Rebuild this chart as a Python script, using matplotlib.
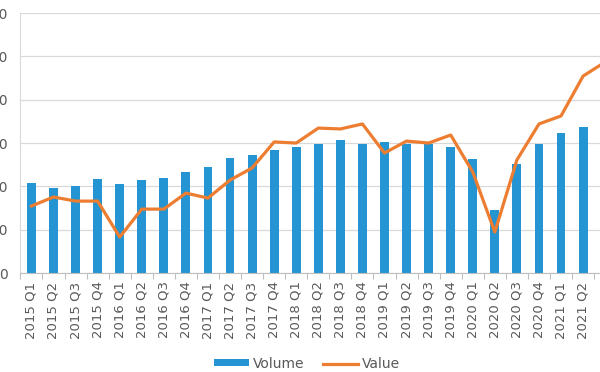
import matplotlib.pyplot as plt
import numpy as np

quarters = ['2015 Q1', '2015 Q2', '2015 Q3', '2015 Q4',
            '2016 Q1', '2016 Q2', '2016 Q3', '2016 Q4',
            '2017 Q1', '2017 Q2', '2017 Q3', '2017 Q4',
            '2018 Q1', '2018 Q2', '2018 Q3', '2018 Q4',
            '2019 Q1', '2019 Q2', '2019 Q3', '2019 Q4',
            '2020 Q1', '2020 Q2', '2020 Q3', '2020 Q4',
            '2021 Q1', '2021 Q2', '2021 Q3']

volume = [41.5, 39.2, 40.2, 43.4, 41.1, 42.9, 43.8, 46.6,
          48.9, 53.1, 54.5, 56.8, 58.2, 59.5, 61.4, 59.5,
          60.5, 59.5, 59.5, 58.2, 52.6, 29.1, 50.3, 59.5,
          64.6, 67.4, 68.0]

value = [30.9, 35.1, 33.2, 33.2, 16.6, 29.5, 29.5, 36.9,
         34.6, 42.9, 48.5, 60.5, 60.0, 66.9, 66.5, 68.8,
         55.4, 60.9, 60.0, 63.7, 46.6, 18.9, 52.2, 68.8,
         72.5, 90.9, 97.4]

y_ticks = [0, 20, 40, 60, 80, 100, 120]

blue = '#2494D2'
orange = '#ED7D31'
grey = '#595959'

fig = plt.figure(figsize=(6, 3.72), dpi=100)
# the source picture is cropped on both sides, so the axes run past the right edge
ax = fig.add_axes([0.034, 0.266, 0.993, 0.699])

x = np.arange(len(quarters))
bars = ax.bar(x, volume, width=0.4, color=blue, label='Volume', zorder=2)
line, = ax.plot(x, value, color=orange, linewidth=2.3, label='Value', zorder=3)

ax.set_xlim(-0.5, len(quarters) - 0.5)
ax.set_ylim(0, 120)
ax.set_yticks(y_ticks)
ax.set_yticklabels([str(t) for t in y_ticks], fontsize=10, color=grey)
ax.tick_params(axis='y', length=0, pad=9)

# last quarter falls outside the crop, its label is not shown
ax.set_xticks(x[:-1])
ax.set_xticklabels(quarters[:-1], rotation=90, fontsize=9.5, color=grey)
ax.set_xticks(np.arange(-0.5, len(quarters), 1), minor=True)
ax.tick_params(axis='x', which='major', length=0, pad=6)
ax.tick_params(axis='x', which='minor', length=4, color='#BFBFBF', width=0.8)

ax.grid(axis='y', color='#D9D9D9', linewidth=0.9, zorder=0)
ax.set_axisbelow(True)
for side in ['top', 'right']:
    ax.spines[side].set_visible(False)
ax.spines['left'].set_color('#D9D9D9')
ax.spines['bottom'].set_color('#BFBFBF')

leg = fig.legend([bars, line], ['Volume', 'Value'], loc='center',
                 bbox_to_anchor=(0.512, 0.022), ncol=2, frameon=False,
                 fontsize=10, handlelength=2.5, handleheight=0.4, columnspacing=1.3,
                 handletextpad=0.3)
for t in leg.get_texts():
    t.set_color(grey)

fig.savefig('out.png', dpi=100)
